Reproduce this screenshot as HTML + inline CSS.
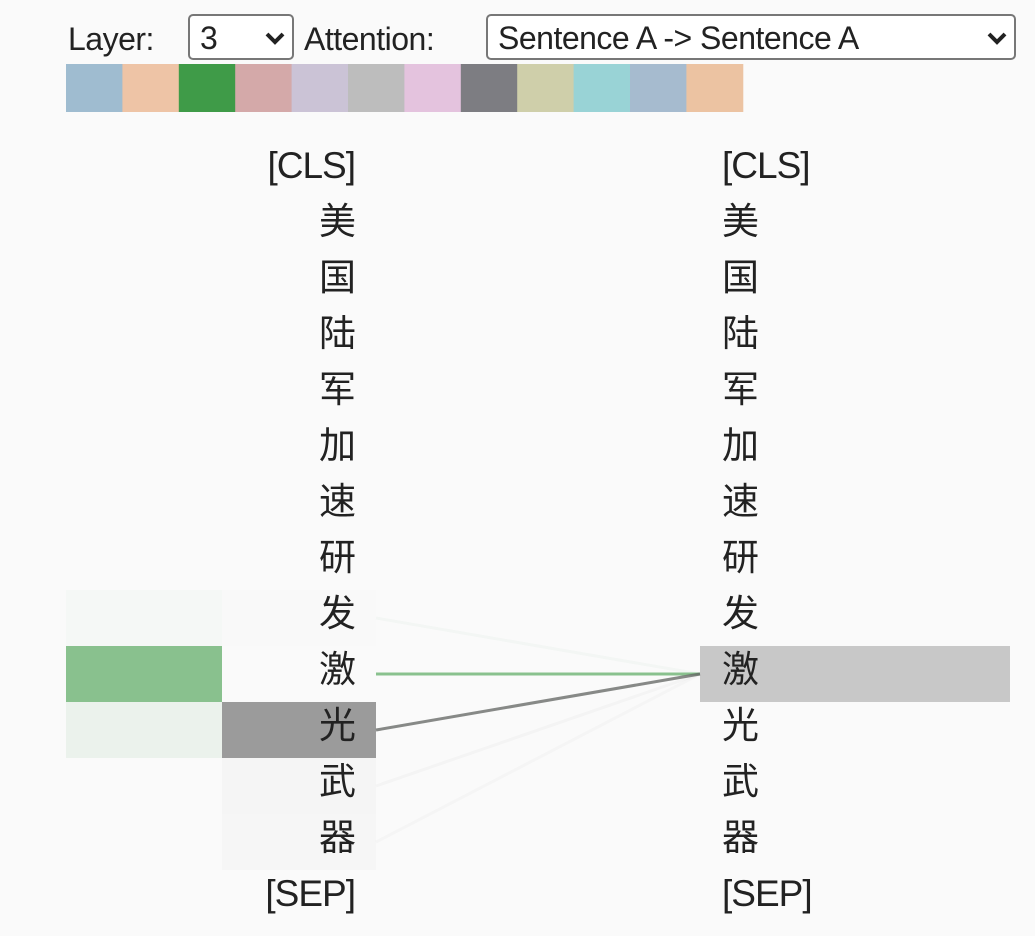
<!DOCTYPE html>
<html><head><meta charset="utf-8"><style>
body{margin:0;background:#fafafa;width:1035px;height:936px;overflow:hidden;font-family:"Liberation Sans","Noto Sans CJK SC",sans-serif;}
.lbl{position:absolute;top:21px;font-size:32px;color:#222;white-space:nowrap;letter-spacing:-0.5px}
.sel{position:absolute;top:14px;height:46px;border:2px solid #777;border-radius:5px;background:#fff;box-sizing:border-box;font-size:32px;line-height:44px;padding-left:10px;color:#222;letter-spacing:-0.5px}
.sel svg{position:absolute;right:6px;top:15px}
</style></head><body>
<div class="lbl" style="left:68px">Layer:</div>
<div class="sel" style="left:188px;width:106px">3<svg width="22" height="14"><polyline points="3,3 11,11 19,3" fill="none" stroke="#222" stroke-width="4"/></svg></div>
<div class="lbl" style="left:304px">Attention:</div>
<div class="sel" style="left:486px;width:530px">Sentence A -&gt; Sentence A<svg width="22" height="14"><polyline points="3,3 11,11 19,3" fill="none" stroke="#222" stroke-width="4"/></svg></div>
<svg id="viz" width="1035" height="936" style="position:absolute;left:0;top:0"></svg>
<script>
const tokens=["[CLS]","美","国","陆","军","加","速","研","发","激","光","武","器","[SEP]"];
const headColors=["#9fbcd0","#eec4a6","#3f9b48","#d4a9a9","#cbc3d6","#bdbdbd","#e4c3de","#7d7d82","#cfcfaa","#99d3d6","#a6bbcf","#ecc3a2"];
const greenWeights=[0,0,0,0,0,0,0,0,0.02,0.55,0.07,0,0,0];
const grayWeights=[0,0,0,0,0,0,0,0,0.01,0,0.75,0.04,0.03,0];
const selected=9;
const ns="http://www.w3.org/2000/svg",svg=document.getElementById('viz');
function mk(t,a){const e=document.createElementNS(ns,t);for(const k in a)e.setAttribute(k,a[k]);svg.appendChild(e);return e;}
const rowH=56,top0=142,sw=56.4;
const y=i=>top0+i*rowH;
headColors.forEach((c,i)=>{const r=mk('rect',{x:66+i*sw,y:64,width:sw+0.5,height:48,fill:c});

});
tokens.forEach((t,i)=>{
 const g=mk('rect',{x:66,y:y(i),width:156,height:rowH,fill:'#3f9b48','fill-opacity':greenWeights[i]*1.1});
 
 
 const b=mk('rect',{x:222,y:y(i),width:154,height:rowH,fill:'#666','fill-opacity':grayWeights[i]*0.85});
 
 
});
const sb=mk('rect',{x:700,y:y(selected),width:310,height:rowH,fill:'#c8c8c8'});


tokens.forEach((t,i)=>{
 if(greenWeights[i]>0){const l=mk('line',{x1:376,y1:y(i)+rowH/2,x2:700,y2:y(selected)+rowH/2,stroke:'#3f9b48','stroke-width':3,'stroke-opacity':Math.min(1,greenWeights[i]*1.1)});
 
 }
 if(grayWeights[i]>0){const l=mk('line',{x1:376,y1:y(i)+rowH/2,x2:700,y2:y(selected)+rowH/2,stroke:'#666','stroke-width':3,'stroke-opacity':grayWeights[i]});
 
 }
});
tokens.forEach((t,i)=>{
 const a=mk('text',{x:355,y:y(i)+36,'text-anchor':'end','font-size':37,fill:'#222','letter-spacing':'-1'});a.textContent=t;
 
 
 const b=mk('text',{x:722,y:y(i)+36,'font-size':37,fill:'#222','letter-spacing':'-1'});b.textContent=t;
 
 
});
</script>
</body></html>
